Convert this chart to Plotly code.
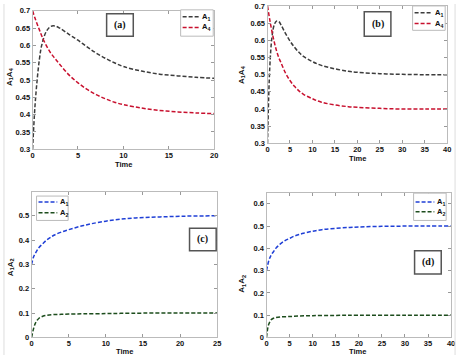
import plotly.graph_objects as go

W, H = 463, 360

# ---------------- data ----------------
t_a = [0, 0.25, 0.5, 0.75, 1, 1.5, 2, 2.5, 3, 4, 5, 6, 7, 8, 9, 10, 12, 14, 16, 18, 20]
a_A1 = [0.30, 0.42, 0.50, 0.56, 0.60, 0.64, 0.655, 0.656, 0.650, 0.632, 0.615, 0.596, 0.578,
        0.563, 0.550, 0.539, 0.526, 0.517, 0.512, 0.508, 0.505]
a_A4 = [0.70, 0.68, 0.662, 0.645, 0.628, 0.600, 0.578, 0.561, 0.545, 0.515, 0.492, 0.473, 0.458,
        0.446, 0.436, 0.429, 0.419, 0.412, 0.408, 0.405, 0.403]

t_b = [0, 0.5, 1, 1.5, 2, 2.5, 3, 4, 5, 6, 7, 8, 10, 12, 15, 18, 20, 25, 30, 35, 40]
b_A1 = [0.30, 0.52, 0.61, 0.645, 0.656, 0.655, 0.645, 0.620, 0.598, 0.580, 0.565, 0.553, 0.538,
        0.527, 0.517, 0.510, 0.507, 0.503, 0.501, 0.500, 0.500]
b_A4 = [0.70, 0.66, 0.625, 0.595, 0.570, 0.550, 0.535, 0.505, 0.483, 0.466, 0.453, 0.443, 0.430,
        0.420, 0.412, 0.407, 0.405, 0.402, 0.400, 0.400, 0.400]

t_c1 = [0, 0.25, 0.5, 1, 1.5, 2, 2.5, 3, 4, 5, 6, 7, 8, 10, 12, 14, 16, 18, 20, 22, 25]
c_A1 = [0.30, 0.33, 0.345, 0.37, 0.385, 0.40, 0.41, 0.42, 0.433, 0.443, 0.452, 0.460, 0.467,
        0.478, 0.486, 0.491, 0.494, 0.496, 0.498, 0.499, 0.500]
t_c2 = [0, 0.25, 0.5, 0.75, 1, 1.5, 2, 3, 4, 5, 7, 10, 12, 15, 20, 25]
c_A2 = [0.0, 0.035, 0.058, 0.071, 0.079, 0.087, 0.091, 0.094, 0.095, 0.096, 0.097, 0.098,
        0.099, 0.100, 0.100, 0.100]

t_d1 = [0, 0.5, 1, 1.5, 2, 3, 4, 5, 6, 7, 8, 10, 12, 15, 18, 20, 25, 30, 35, 40]
d_A1 = [0.30, 0.345, 0.37, 0.385, 0.40, 0.42, 0.435, 0.445, 0.455, 0.462, 0.468, 0.477, 0.484,
        0.490, 0.494, 0.496, 0.499, 0.500, 0.500, 0.500]
t_d2 = [0, 0.25, 0.5, 1, 1.5, 2, 3, 5, 7, 10, 15, 20, 30, 40]
d_A2 = [0.0, 0.04, 0.06, 0.079, 0.086, 0.089, 0.092, 0.094, 0.096, 0.098, 0.099, 0.100, 0.100, 0.100]

panel_labels = ["(a)", "(b)", "(c)", "(d)"]
x_title = "Time"
y_titles = ["A<sub>1</sub>A<sub>4</sub>", "A<sub>1</sub>A<sub>4</sub>",
            "A<sub>1</sub>A<sub>2</sub>", "A<sub>1</sub>A<sub>2</sub>"]
legend_names = [["A<sub>1</sub>", "A<sub>4</sub>"], ["A<sub>1</sub>", "A<sub>4</sub>"],
                ["A<sub>1</sub>", "A<sub>2</sub>"], ["A<sub>1</sub>", "A<sub>2</sub>"]]

GRAY = "#3c3c3c"
RED = "#c8102e"
BLUE = "#1f3fd6"
GREEN = "#1d4d1d"

# ---------------- layout helpers ----------------
def px(x):
    return x / W

def py(y):
    return 1 - y / H

# plot boxes in pixel coords (left, right, top, bottom)
boxes = [(31, 215, 7, 149), (269, 451, 2, 143), (30, 218, 193, 342), (268, 455, 194, 342)]
xranges = [[0, 20], [0, 40], [0, 25], [0, 40]]
yranges = [[0.3, 0.7], [0.3, 0.7], [0, 0.597], [0, 0.648]]
xticks = [[0, 5, 10, 15, 20], list(range(0, 41, 5)), list(range(0, 26, 5)), list(range(0, 41, 5))]
yticks = [[0.3, 0.35, 0.4, 0.45, 0.5, 0.55, 0.6, 0.65, 0.7]] * 2 + \
         [[0, 0.1, 0.2, 0.3, 0.4, 0.5], [0, 0.1, 0.2, 0.3, 0.4, 0.5, 0.6]]
ytext = [["0.3", "0.35", "0.4", "0.45", "0.5", "0.55", "0.6", "0.65", "0.7"]] * 2 + \
        [["0", "0.1", "0.2", "0.3", "0.4", "0.5"], ["0", "0.1", "0.2", "0.3", "0.4", "0.5", "0.6"]]
# axis title positions (pixels): x-title center (x, y), y-title center (x, y)
xt_pos = [(123, 165), (360, 158), (124, 356), (360, 356)]
yt_pos = [(8, 74), (243, 72), (9, 270), (243, 287)]

series = [
    [(t_a, a_A1, GRAY), (t_a, a_A4, RED)],
    [(t_b, b_A1, GRAY), (t_b, b_A4, RED)],
    [(t_c1, c_A1, BLUE), (t_c2, c_A2, GREEN)],
    [(t_d1, d_A1, BLUE), (t_d2, d_A2, GREEN)],
]

fig = go.Figure()
FONT = "Liberation Sans, Arial"
tickfont = dict(family=FONT, size=7.5, color="#111", weight="bold")
layout = {}
annotations = []
for i in range(4):
    sfx = "" if i == 0 else str(i + 1)
    for xs, ys, col in series[i]:
        fig.add_trace(go.Scatter(x=xs, y=ys, mode="lines", line=dict(color=col, width=1.5, dash="4px,2px"),
                                 line_shape="spline", showlegend=False,
                                 xaxis="x" + sfx, yaxis="y" + sfx))
    l, r, t, b = boxes[i]
    layout["xaxis" + sfx] = dict(domain=[px(l), px(r)], range=xranges[i], anchor="y" + sfx,
                                 tickvals=xticks[i], ticks="inside", ticklen=3, tickcolor="#999",
                                 showline=True, linecolor="#bbb", linewidth=1, mirror="ticks",
                                 showgrid=False, zeroline=False, tickfont=tickfont,
                                 ticklabeloverflow="allow", ticklabelstandoff=-1)
    layout["yaxis" + sfx] = dict(domain=[py(b), py(t)], range=yranges[i], anchor="x" + sfx,
                                 tickvals=yticks[i], ticktext=ytext[i], ticks="inside", ticklen=3,
                                 tickcolor="#999", showline=True, linecolor="#bbb", linewidth=1,
                                 mirror="ticks", showgrid=False, zeroline=False, tickfont=tickfont,
                                 ticklabeloverflow="allow")
    annotations.append(dict(xref="paper", yref="paper", x=px(xt_pos[i][0]), y=py(xt_pos[i][1]),
                            xanchor="center", yanchor="middle", showarrow=False, text=x_title,
                            font=dict(family=FONT, size=7.5, weight="bold", color="#111")))
    annotations.append(dict(xref="paper", yref="paper", x=px(yt_pos[i][0]), y=py(yt_pos[i][1]),
                            xanchor="center", yanchor="middle", showarrow=False, text=y_titles[i],
                            textangle=-90,
                            font=dict(family=FONT, size=8, weight="bold", color="#111")))

fig.update_layout(**layout)

# ---------------- legends (manual) and panel label boxes ----------------
shapes = []
# legend boxes: (left, right, top, bottom, line_x0, line_x1, y1, y2)
legs = [(181, 214, 6, 33, 183, 200, 13, 24),
        (416, 449, 2, 27, 418, 436, 9, 20),
        (35, 67, 197, 222, 37, 56, 203, 214),
        (417, 450, 194, 222, 419, 438, 203, 213)]
for i, (l, r, t, b, lx0, lx1, y1, y2) in enumerate(legs):
    shapes.append(dict(type="rect", xref="paper", yref="paper", x0=px(l), x1=px(r), y0=py(b), y1=py(t),
                       line=dict(color="#bbb", width=1), fillcolor="white", layer="above"))
    for (yy, (xs, ys, col), name) in zip([y1, y2], series[i], legend_names[i]):
        shapes.append(dict(type="line", xref="paper", yref="paper", x0=px(lx0), x1=px(lx1),
                           y0=py(yy), y1=py(yy), line=dict(color=col, width=1.5, dash="4px,2px"),
                           layer="above"))
        annotations.append(dict(xref="paper", yref="paper", x=px(lx1 + 1), y=py(yy), xanchor="left",
                                yanchor="middle", showarrow=False, text=name,
                                font=dict(family=FONT, size=7.5, weight="bold", color="#111")))

# panel label boxes: (left, right, top, bottom)
lab_boxes = [(106, 133, 10, 33), (367, 394, 8, 33), (190, 217, 230, 253), (418, 445, 253, 277)]
for (l, r, t, b), txt in zip(lab_boxes, panel_labels):
    shapes.append(dict(type="rect", xref="paper", yref="paper", x0=px(l), x1=px(r), y0=py(b), y1=py(t),
                       line=dict(color="#555", width=1.5), fillcolor="white", layer="above"))
    annotations.append(dict(xref="paper", yref="paper", x=px((l + r) / 2), y=py((t + b) / 2),
                            xanchor="center", yanchor="middle", showarrow=False, text=txt,
                            font=dict(family="Liberation Serif, Times New Roman", size=10,
                                      weight="bold", color="#111")))

# faint figure frame lines
shapes.append(dict(type="line", xref="paper", yref="paper", x0=px(2), x1=px(2), y0=0, y1=1,
                   line=dict(color="#ddd", width=1)))
shapes.append(dict(type="line", xref="paper", yref="paper", x0=px(459), x1=px(459), y0=0, y1=1,
                   line=dict(color="#ddd", width=1)))

fig.update_layout(width=W, height=H, margin=dict(l=0, r=0, t=0, b=0),
                  paper_bgcolor="white", plot_bgcolor="white",
                  shapes=shapes, annotations=annotations, showlegend=False)

fig.write_html("out.html", config={"displayModeBar": False, "staticPlot": True},
               post_script="document.body.style.margin='0';document.body.style.overflow='hidden';")
